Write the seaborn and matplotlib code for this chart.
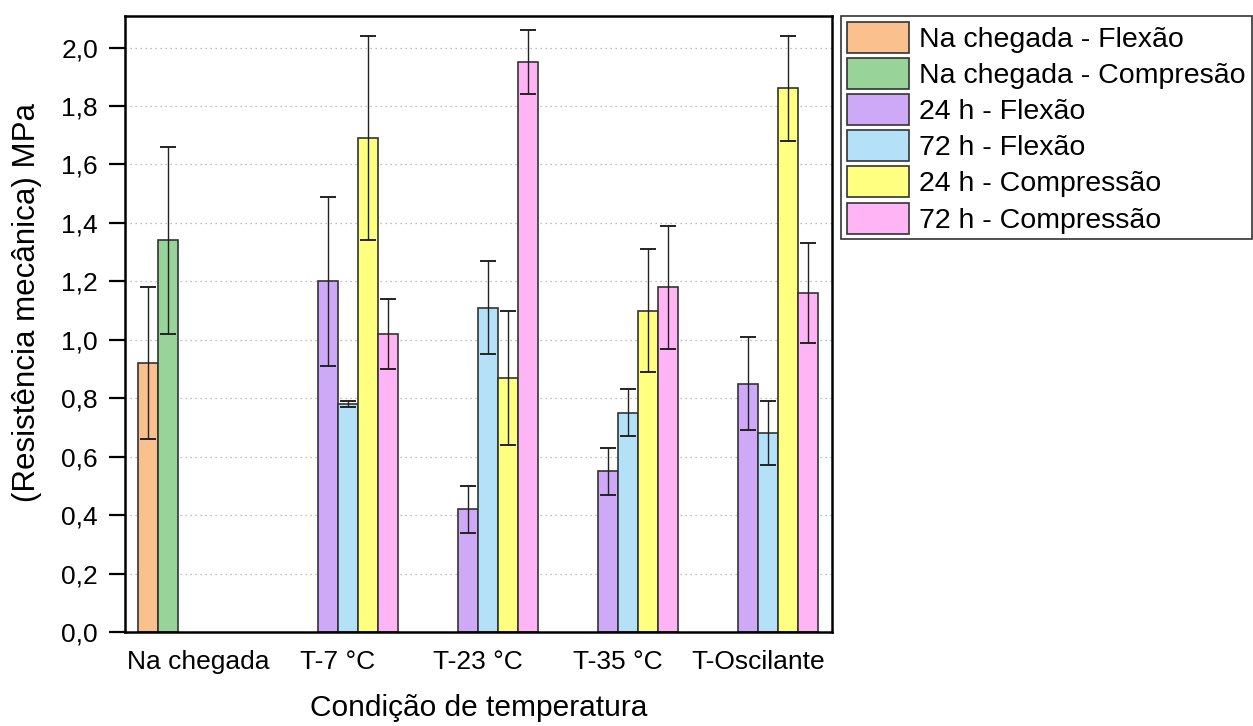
import matplotlib.pyplot as plt
import seaborn as sns
import pandas as pd
import numpy as np
from matplotlib.patches import Patch

# Categories (x axis) and series (hue)
conditions = ['Na chegada', 'T-7 °C', 'T-23 °C', 'T-35 °C', 'T-Oscilante']
series = ['Na chegada - Flexão', 'Na chegada - Compresão', '24 h - Flexão',
          '72 h - Flexão', '24 h - Compressão', '72 h - Compressão']
colors = ['#FAC08E', '#98D39A', '#CDA9F7', '#B5E1F8', '#FFFF80', '#FFB5F5']

# Mean values per series (None = not measured for that condition)
flex_arrival = [0.92, None, None, None, None]
comp_arrival = [1.34, None, None, None, None]
flex_24h = [None, 1.20, 0.42, 0.55, 0.85]
flex_72h = [None, 0.78, 1.11, 0.75, 0.68]
comp_24h = [None, 1.69, 0.87, 1.10, 1.86]
comp_72h = [None, 1.02, 1.95, 1.18, 1.16]

# Error (+/-) per series
err_flex_arrival = [0.26, None, None, None, None]
err_comp_arrival = [0.32, None, None, None, None]
err_flex_24h = [None, 0.29, 0.08, 0.08, 0.16]
err_flex_72h = [None, 0.01, 0.16, 0.08, 0.11]
err_comp_24h = [None, 0.35, 0.23, 0.21, 0.18]
err_comp_72h = [None, 0.12, 0.11, 0.21, 0.17]

values = [flex_arrival, comp_arrival, flex_24h, flex_72h, comp_24h, comp_72h]
errors = [err_flex_arrival, err_comp_arrival, err_flex_24h, err_flex_72h,
          err_comp_24h, err_comp_72h]

rows = []
for s, vals, errs in zip(series, values, errors):
    for c, v, e in zip(conditions, vals, errs):
        if v is not None:
            rows.append({'Condição': c, 'Série': s, 'Valor': v, 'Erro': e})
df = pd.DataFrame(rows)

sns.set_style('white')
plt.rcParams['font.family'] = ['Liberation Sans', 'DejaVu Sans']
plt.rcParams['text.color'] = 'black'
plt.rcParams['axes.labelcolor'] = 'black'
plt.rcParams['xtick.color'] = 'black'
plt.rcParams['ytick.color'] = 'black'

fig = plt.figure(figsize=(12.53, 7.26), dpi=100)
ax = fig.add_axes([125 / 1253, 1 - 632 / 726, 707 / 1253, 616 / 726])

sns.barplot(data=df, x='Condição', y='Valor', hue='Série', order=conditions,
            hue_order=series, palette=colors, width=0.857, errorbar=None,
            edgecolor='#333333', linewidth=1.2, saturation=1, legend=False, ax=ax)

# Error bars at the centre of each bar
for container, s in zip(ax.containers, series):
    sub = df[df['Série'] == s].set_index('Condição').reindex(
        [c for c in conditions if c in set(df.loc[df['Série'] == s, 'Condição'])])
    for bar, (_, r) in zip(container.patches, sub.iterrows()):
        xc = bar.get_x() + bar.get_width() / 2
        ax.errorbar(xc, r['Valor'], yerr=r['Erro'], color='#222222',
                    elinewidth=1.0, capsize=5.5, capthick=1.4, zorder=5)

ax.set_xlim(-0.52, 4.53)
ax.set_ylim(0, 2.108)
ax.set_yticks(np.arange(0, 2.01, 0.2))
ax.set_yticklabels([f'{t:.1f}'.replace('.', ',') for t in np.arange(0, 2.01, 0.2)])

for y in np.arange(0.2, 2.01, 0.2):
    ax.axhline(y, color='#aaaaaa', linestyle=(0, (1, 3)), linewidth=0.9, zorder=0)

for sp in ax.spines.values():
    sp.set_visible(True)
    sp.set_color('black')
    sp.set_linewidth(1.8)

ax.tick_params(axis='y', direction='out', length=11.5, width=1.6, pad=8,
               labelsize=19, left=True, color='black', labelcolor='black')
ax.tick_params(axis='x', length=0, pad=13, labelsize=19, labelcolor='black')

ax.set_xlabel('Condição de temperatura', fontsize=21.5, labelpad=0, color='black')
ax.set_ylabel('(Resistência mecânica) MPa', fontsize=22.5, labelpad=0, color='black')
ax.xaxis.set_label_coords(0.5, -0.10)
ax.yaxis.set_label_coords(-0.118, 0.535)

handles = [Patch(facecolor=c, edgecolor='#333333', linewidth=1.2) for c in colors]
leg = fig.legend(handles, series, loc='upper left',
                 bbox_to_anchor=(841 / 1253, 1 - 16 / 726), borderaxespad=0,
                 fontsize=20.5, frameon=True, fancybox=False, borderpad=0.2,
                 handlelength=2.2, handleheight=1.3, labelspacing=0.18,
                 handletextpad=0.35)
leg.get_frame().set_edgecolor('black')
leg.get_frame().set_linewidth(1.2)
for t in leg.get_texts():
    t.set_color('black')

fig.savefig('out.png', dpi=100)
